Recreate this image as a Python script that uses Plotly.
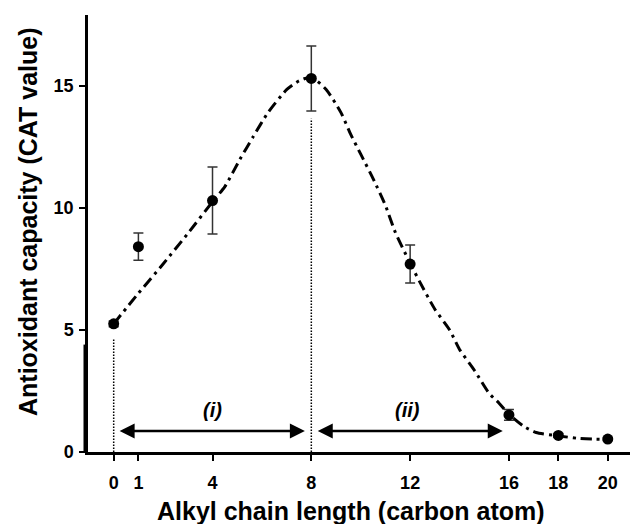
import plotly.graph_objects as go

# Measured data (chain length vs CAT value)
chain_len = [0, 1, 4, 8, 12, 16, 18, 20]
cat_value = [5.25, 8.41, 10.3, 15.3, 7.7, 1.52, 0.68, 0.53]
cat_error = [0.12, 0.56, 1.37, 1.33, 0.78, 0.22, 0.08, 0.06]

# Fitted curve
curve_x = [0, 1, 2, 3, 4, 4.5, 5.1, 5.65, 6.25, 7.0, 7.5, 8.0, 8.6, 9.2, 9.6,
           10.0, 10.5, 11.0, 11.4, 12.0, 12.4, 13.0, 13.6, 14.0, 14.6, 15.2,
           15.6, 16.0, 16.6, 17.1, 18.0, 18.8, 19.4, 20.0]
curve_y = [5.25, 6.5, 7.7, 8.95, 10.25, 10.87, 11.97, 12.92, 13.91, 14.84, 15.2,
           15.35, 14.85, 13.9, 13.0, 12.2, 11.2, 10.1, 9.0, 7.73, 6.95, 5.85,
           5.0, 4.2, 3.35, 2.4, 2.0, 1.55, 1.05, 0.8, 0.66, 0.56, 0.53, 0.52]

x_ticks = [0, 1, 4, 8, 12, 16, 18, 20]
y_ticks = [0, 5, 10, 15]

# Region arrows
region_labels = ["(i)", "(ii)"]
region_start = [0.18, 8.2]
region_end = [7.74, 15.75]
region_label_x = [4.0, 11.9]
arrow_y = 0.86
label_y = 1.72

# dotted guide lines (chain lengths 0 and 8)
guide_x = [0, 8]
guide_top = [4.67, 13.65]

FONT = "Liberation Sans, Arial, sans-serif"

fig = go.Figure()
fig.add_trace(go.Scatter(
    x=curve_x, y=curve_y, mode="lines",
    line=dict(color="black", width=3, dash="11px,5px,3px,5px", shape="spline", smoothing=0.6),
    hoverinfo="skip", showlegend=False))
fig.add_trace(go.Scatter(
    x=chain_len, y=cat_value, mode="markers",
    marker=dict(color="black", size=11),
    error_y=dict(type="data", array=cat_error, visible=True, color="#333333", thickness=1.5, width=5),
    showlegend=False))

shapes = []
for gx, gt in zip(guide_x, guide_top):
    shapes.append(dict(type="line", xref="x", yref="y", x0=gx, x1=gx, y0=0, y1=gt,
                       line=dict(color="black", width=1.5, dash="1.5px,1.5px")))
# thickened lower part of the y axis
shapes.append(dict(type="line", xref="paper", yref="y", x0=-0.006, x1=-0.006, y0=0, y1=4.4,
                   line=dict(color="black", width=2.5)))

annotations = []
for s, e in zip(region_start, region_end):
    annotations.append(dict(x=e, y=arrow_y, ax=s, ay=arrow_y, xref="x", yref="y",
                            axref="x", ayref="y", text="", showarrow=True,
                            arrowhead=2, arrowside="end+start", arrowsize=1.2,
                            arrowwidth=2.5, arrowcolor="black"))
for lab, lx in zip(region_labels, region_label_x):
    annotations.append(dict(x=lx, y=label_y, xref="x", yref="y", text="<i><b>" + lab + "</b></i>",
                            showarrow=False, font=dict(family=FONT, size=20, color="black")))

W, H = 630, 524
ML, MR, MT, MB = 88, 0, 15, 72
pw, ph = W - ML - MR, H - MT - MB
annotations.append(dict(x=(351 - ML) / pw, y=(H - MB - 511) / ph, xref="paper", yref="paper",
                        xanchor="center", yanchor="middle",
                        text="<b>Alkyl chain length (carbon atom)</b>",
                        showarrow=False, font=dict(family=FONT, size=25, color="black")))
annotations.append(dict(x=(28 - ML) / pw, y=(H - MB - 222) / ph, xref="paper", yref="paper",
                        xanchor="center", yanchor="middle",
                        text="<b>Antioxidant capacity (CAT value)</b>",
                        textangle=-90, showarrow=False, font=dict(family=FONT, size=25, color="black")))

fig.update_layout(
    width=W, height=H,
    margin=dict(l=ML, r=MR, t=MT, b=MB),
    paper_bgcolor="white", plot_bgcolor="white",
    shapes=shapes, annotations=annotations,
    font=dict(family=FONT, color="black"),
    xaxis=dict(range=[-1.04, 20.9], tickvals=x_ticks, showgrid=False, zeroline=False,
               showline=True, linecolor="black", linewidth=2.5,
               ticks="outside", ticklen=6, tickwidth=2, tickcolor="black",
               ticklabelstandoff=7,
               tickfont=dict(family=FONT, size=18, color="black", weight="bold")),
    yaxis=dict(range=[0, 17.9], tickvals=y_ticks, showgrid=False, zeroline=False,
               showline=True, linecolor="black", linewidth=2.5,
               ticks="outside", ticklen=6, tickwidth=2, tickcolor="black",
               ticklabelstandoff=2,
               tickfont=dict(family=FONT, size=18, color="black", weight="bold")),
)

fig.write_html("out.html")
